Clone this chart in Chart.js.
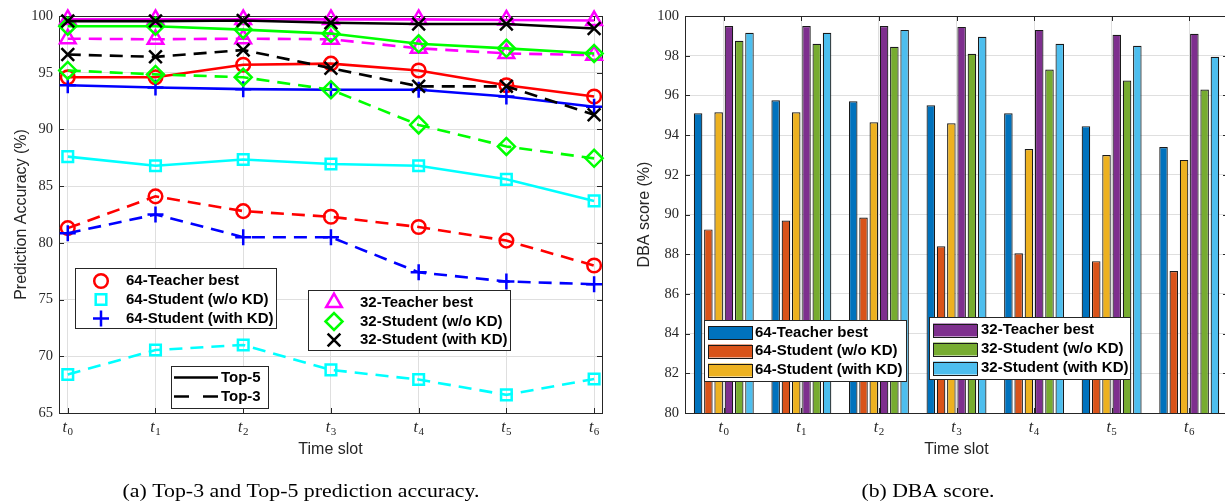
<!DOCTYPE html>
<html>
<head>
<meta charset="utf-8">
<script src="https://cdn.jsdelivr.net/npm/chart.js@4.4.1/dist/chart.umd.min.js"></script>
<style>
  html, body { margin:0; padding:0; background:#ffffff; width:1225px; height:502px; overflow:hidden; }
  canvas { position:absolute; top:0; }
  #c1 { left:0; }
  #c2 { left:620px; }
</style>
</head>
<body>
<canvas id="c1" width="620" height="502"></canvas>
<canvas id="c2" width="620" height="502"></canvas>
<script>
// ---------------- data ----------------
const categories = ['t0', 't1', 't2', 't3', 't4', 't5', 't6'];
const accTicks = [65, 70, 75, 80, 85, 90, 95, 100];
const dbaTicks = [80, 82, 84, 86, 88, 90, 92, 94, 96, 98, 100];
const seriesNames = ['64-Teacher best', '64-Student (w/o KD)', '64-Student (with KD)',
                     '32-Teacher best', '32-Student (w/o KD)', '32-Student (with KD)'];
const topNames = ['Top-5', 'Top-3'];

// Top-5 prediction accuracy (%)
const teacher64Top5   = [94.6, 94.6, 95.7, 95.8, 95.2, 93.9, 92.9];
const studentNoKD64Top5 = [87.6, 86.8, 87.35, 86.95, 86.8, 85.6, 83.7];
const studentKD64Top5 = [93.9, 93.7, 93.55, 93.5, 93.5, 92.9, 92.0];
const teacher32Top5   = [99.7, 99.7, 99.7, 99.7, 99.7, 99.65, 99.6];
const studentNoKD32Top5 = [99.1, 99.1, 98.8, 98.45, 97.55, 97.15, 96.7];
const studentKD32Top5 = [99.55, 99.55, 99.6, 99.4, 99.3, 99.3, 98.9];

// Top-3 prediction accuracy (%)
const teacher64Top3   = [81.3, 84.1, 82.8, 82.3, 81.4, 80.2, 78.0];
const studentNoKD64Top3 = [68.4, 70.55, 71.0, 68.8, 67.95, 66.6, 68.0];
const studentKD64Top3 = [80.85, 82.5, 80.5, 80.5, 77.4, 76.6, 76.35];
const teacher32Top3   = [98.0, 97.95, 98.0, 97.95, 97.15, 96.7, 96.55];
const studentNoKD32Top3 = [95.2, 94.85, 94.6, 93.5, 90.4, 88.5, 87.45];
const studentKD32Top3 = [96.6, 96.4, 97.0, 95.4, 93.8, 93.8, 91.3];

// DBA score (%)
const dbaTeacher64   = [95.1, 95.75, 95.7, 95.5, 95.1, 94.45, 93.4];
const dbaStudentNoKD64 = [89.25, 89.7, 89.85, 88.4, 88.05, 87.65, 87.15];
const dbaStudentKD64 = [95.15, 95.15, 94.65, 94.6, 93.3, 93.0, 92.75];
const dbaTeacher32   = [99.5, 99.5, 99.5, 99.45, 99.3, 99.05, 99.1];
const dbaStudentNoKD32 = [98.75, 98.6, 98.45, 98.1, 97.3, 96.75, 96.3];
const dbaStudentKD32 = [99.15, 99.15, 99.3, 98.95, 98.6, 98.5, 97.95];

// ---------------- styles ----------------
const GRID = '#dfdfdf', AXIS = '#262626';
const lineStyles = [
  { color: '#FF0000', point: 'circle',   r: 6.8 },
  { color: '#00FFFF', point: 'rect',     r: 7.5 },
  { color: '#0000FF', point: 'cross',    r: 8 },
  { color: '#FF00FF', point: 'triangle', r: 9 },
  { color: '#00FF00', point: 'rectRot',  r: 8.5 },
  { color: '#000000', point: 'crossRot', r: 9 }
];
const barColors = ['#0072BD', '#D95319', '#EDB120', '#7E2F8E', '#77AC30', '#4DBEEE'];
const DASH = [13, 8];
const MARKER_LW = 2.5;

function drawMarker(ctx, style, x, y, r) {
  ctx.beginPath();
  const s = r * Math.SQRT1_2;
  switch (style) {
    case 'circle': ctx.arc(x, y, r, 0, Math.PI * 2); break;
    case 'rect': ctx.rect(x - s, y - s, 2 * s, 2 * s); break;
    case 'cross': ctx.moveTo(x - r, y); ctx.lineTo(x + r, y); ctx.moveTo(x, y - r); ctx.lineTo(x, y + r); break;
    case 'triangle': {
      const a = 2 * Math.PI / 3;
      ctx.moveTo(x, y - r);
      ctx.lineTo(x + r * Math.sin(a), y - r * Math.cos(a));
      ctx.lineTo(x - r * Math.sin(a), y - r * Math.cos(a));
      ctx.closePath(); break;
    }
    case 'rectRot': ctx.moveTo(x - r, y); ctx.lineTo(x, y - r); ctx.lineTo(x + r, y); ctx.lineTo(x, y + r); ctx.closePath(); break;
    case 'crossRot': ctx.moveTo(x - s, y - s); ctx.lineTo(x + s, y + s); ctx.moveTo(x - s, y + s); ctx.lineTo(x + s, y - s); break;
  }
  ctx.stroke();
}

function drawSubLabel(ctx, label, x, y) {
  const main = label.slice(0, 1), sub = label.slice(1);
  ctx.textAlign = 'left'; ctx.textBaseline = 'alphabetic';
  ctx.font = 'italic 16px "Liberation Serif"';
  const w1 = ctx.measureText(main).width;
  ctx.font = '11px "Liberation Serif"';
  const w2 = ctx.measureText(sub).width;
  const x0 = x - (w1 + w2 + 0.5) / 2;
  ctx.font = 'italic 16px "Liberation Serif"';
  ctx.fillText(main, x0, y);
  ctx.font = '11px "Liberation Serif"';
  ctx.fillText(sub, x0 + w1 + 0.5, y + 3);
}

function legendBox(ctx, x, y, w, h) {
  ctx.fillStyle = '#ffffff';
  ctx.fillRect(x, y, w, h);
  ctx.strokeStyle = AXIS; ctx.lineWidth = 1; ctx.setLineDash([]);
  ctx.strokeRect(x + 0.5, y + 0.5, w, h);
}
function legendText(ctx, text, x, y) {
  ctx.fillStyle = '#000000';
  ctx.font = 'bold 15px "Liberation Sans"';
  ctx.textAlign = 'left'; ctx.textBaseline = 'middle';
  ctx.fillText(text, x, y);
}

function decorPlugin(opt) {
  return {
    id: 'decor',
    beforeDatasetsDraw(chart) {
      const { ctx, chartArea: a, scales: { x: xs, y: ys } } = chart;
      ctx.save();
      ctx.strokeStyle = AXIS; ctx.lineWidth = 1; ctx.setLineDash([]);
      ctx.beginPath();
      ys.ticks.forEach(t => {
        const y = Math.round(ys.getPixelForValue(t.value)) + 0.5;
        ctx.moveTo(a.left, y); ctx.lineTo(a.left + 5, y);
        ctx.moveTo(a.right, y); ctx.lineTo(a.right - 5, y);
      });
      categories.forEach((c, i) => {
        const x = Math.round(xs.getPixelForValue(i)) + 0.5;
        ctx.moveTo(x, a.bottom); ctx.lineTo(x, a.bottom - 5);
        ctx.moveTo(x, a.top); ctx.lineTo(x, a.top + 5);
      });
      ctx.stroke();
      ctx.strokeRect(Math.round(a.left) + 0.5, Math.round(a.top) + 0.5,
                     Math.round(a.right - a.left), Math.round(a.bottom - a.top));
      ctx.restore();
    },
    afterDraw(chart) {
      const { ctx, chartArea: a, scales: { x: xs } } = chart;
      ctx.save();
      ctx.fillStyle = AXIS;
      categories.forEach((c, i) => drawSubLabel(ctx, c, xs.getPixelForValue(i), 432));
      ctx.font = '16px "Liberation Sans"';
      ctx.textAlign = 'center'; ctx.textBaseline = 'alphabetic';
      ctx.fillText(opt.xTitle, (a.left + a.right) / 2, 454);
      ctx.save();
      ctx.translate(opt.yTitleX, (a.top + a.bottom) / 2);
      ctx.rotate(-Math.PI / 2);
      ctx.fillText(opt.yTitle, 0, 0);
      ctx.restore();
      ctx.fillStyle = '#000000';
      ctx.font = '18.5px "Liberation Serif"';
      const w = ctx.measureText(opt.caption).width;
      ctx.save();
      ctx.translate(opt.capX, 497);
      ctx.scale(opt.capW / w, 1);
      ctx.textAlign = 'center';
      ctx.fillText(opt.caption, 0, 0);
      ctx.restore();
      opt.legends(ctx);
      ctx.restore();
    }
  };
}

// ---------------- left chart ----------------
const top5 = [teacher64Top5, studentNoKD64Top5, studentKD64Top5, teacher32Top5, studentNoKD32Top5, studentKD32Top5];
const top3 = [teacher64Top3, studentNoKD64Top3, studentKD64Top3, teacher32Top3, studentNoKD32Top3, studentKD32Top3];
const leftSets = [];
seriesNames.forEach((name, k) => {
  const st = lineStyles[k];
  [top5[k], top3[k]].forEach((vals, j) => {
    leftSets.push({
      label: name + ' ' + topNames[j],
      data: vals.map((v, i) => ({ x: i, y: v })),
      borderColor: st.color, borderWidth: 2.6, borderDash: j ? DASH : [],
      pointStyle: st.point, pointRadius: st.r, pointHoverRadius: st.r,
      pointBorderWidth: MARKER_LW, pointBorderColor: st.color, pointBackgroundColor: 'rgba(0,0,0,0)',
      fill: false, tension: 0, clip: false,
      order: 20 - (k * 2 + j)
    });
  });
});

function leftLegends(ctx) {
  const groups = [
    { box: [75, 268, 201, 60], mx: 101, tx: 126, rows: [281, 299.5, 318.5], idx: [0, 1, 2] },
    { box: [308, 290, 202, 60], mx: 334, tx: 360, rows: [302.5, 321.5, 340], idx: [3, 4, 5] }
  ];
  groups.forEach(g => {
    legendBox(ctx, ...g.box);
    g.idx.forEach((k, r) => {
      const st = lineStyles[k];
      ctx.strokeStyle = st.color; ctx.lineWidth = MARKER_LW; ctx.setLineDash([]);
      drawMarker(ctx, st.point, g.mx, g.rows[r], st.r);
      legendText(ctx, seriesNames[k], g.tx, g.rows[r]);
    });
  });
  legendBox(ctx, 171, 366, 97, 42);
  const lrows = [377.5, 396.5];
  topNames.forEach((n, j) => {
    ctx.strokeStyle = '#000000'; ctx.lineWidth = 2.6;
    ctx.setLineDash(j ? [15, 14] : []);
    ctx.beginPath(); ctx.moveTo(174, lrows[j]); ctx.lineTo(218, lrows[j]); ctx.stroke();
    ctx.setLineDash([]);
    legendText(ctx, n, 221, lrows[j]);
  });
}

new Chart(document.getElementById('c1'), {
  type: 'line',
  data: { datasets: leftSets },
  options: {
    responsive: false, animation: false, events: [],
    layout: { padding: { top: 16, right: 18, left: 0, bottom: 0 } },
    plugins: { legend: { display: false }, tooltip: { enabled: false } },
    scales: {
      x: {
        type: 'linear', min: -0.1, max: 6.09,
        afterBuildTicks: s => { s.ticks = categories.map((c, i) => ({ value: i })); },
        afterFit: s => { s.height = 89; },
        ticks: { display: false },
        grid: { color: GRID, drawTicks: false, tickLength: 0 },
        border: { display: false }
      },
      y: {
        min: 65, max: 100,
        afterBuildTicks: s => { s.ticks = accTicks.map(v => ({ value: v })); },
        afterFit: s => { s.width = 59; },
        ticks: { font: { family: 'Liberation Serif', size: 14.5 }, color: AXIS, padding: 6 },
        grid: { color: GRID, drawTicks: false, tickLength: 0 },
        border: { display: false }
      }
    }
  },
  plugins: [decorPlugin({
    xTitle: 'Time slot', yTitle: 'Prediction Accuracy (%)', yTitleX: 26,
    caption: '(a) Top-3 and Top-5 prediction accuracy.', capX: 301, capW: 357,
    legends: leftLegends
  })]
});

// ---------------- right chart ----------------
const dbaSeries = [dbaTeacher64, dbaStudentNoKD64, dbaStudentKD64, dbaTeacher32, dbaStudentNoKD32, dbaStudentKD32];
const barSets = dbaSeries.map((vals, k) => ({
  label: seriesNames[k],
  data: vals,
  backgroundColor: barColors[k],
  borderColor: '#1a1a1a', borderWidth: 1.2,
  categoryPercentage: 0.795, barPercentage: 0.83
}));

function rightLegends(ctx) {
  const groups = [
    { box: [84, 320, 202, 61], sx: 88, tx: 135, rows: [332.5, 351, 370], idx: [0, 1, 2] },
    { box: [309, 317, 201, 62], sx: 313, tx: 361, rows: [330, 349, 368], idx: [3, 4, 5] }
  ];
  groups.forEach(g => {
    legendBox(ctx, ...g.box);
    g.idx.forEach((k, r) => {
      const y = g.rows[r];
      ctx.fillStyle = barColors[k];
      ctx.fillRect(g.sx, y - 6.5, 44, 13);
      ctx.strokeStyle = '#1a1a1a'; ctx.lineWidth = 1;
      ctx.strokeRect(g.sx + 0.5, Math.round(y - 6.5) + 0.5, 44, 13);
      legendText(ctx, seriesNames[k], g.tx, y);
    });
  });
}

new Chart(document.getElementById('c2'), {
  type: 'bar',
  data: { labels: categories, datasets: barSets },
  options: {
    responsive: false, animation: false, events: [],
    layout: { padding: { top: 16, right: 12, left: 0, bottom: 0 } },
    plugins: { legend: { display: false }, tooltip: { enabled: false } },
    scales: {
      x: {
        type: 'category', offset: true,
        afterFit: s => { s.height = 89; },
        ticks: { display: false },
        grid: { color: GRID, offset: false, drawTicks: false, tickLength: 0 },
        border: { display: false }
      },
      y: {
        min: 80, max: 100,
        afterBuildTicks: s => { s.ticks = dbaTicks.map(v => ({ value: v })); },
        afterFit: s => { s.width = 65; },
        ticks: { font: { family: 'Liberation Serif', size: 14.5 }, color: AXIS, padding: 6 },
        grid: { color: GRID, drawTicks: false, tickLength: 0 },
        border: { display: false }
      }
    }
  },
  plugins: [decorPlugin({
    xTitle: 'Time slot', yTitle: 'DBA score (%)', yTitleX: 29,
    caption: '(b) DBA score.', capX: 308, capW: 133,
    legends: rightLegends
  })]
});
</script>
</body>
</html>
